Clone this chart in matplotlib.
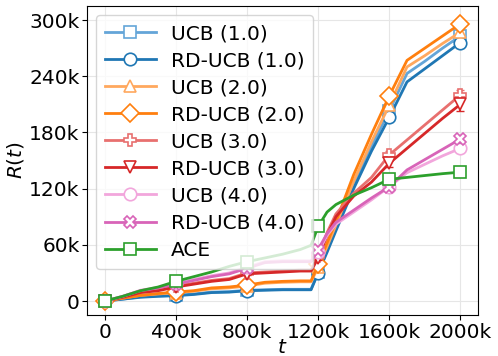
import numpy as np
import matplotlib
matplotlib.use("Agg")
import matplotlib.pyplot as plt
from matplotlib.ticker import FuncFormatter

# time grid (in thousands of steps)
t = [0, 100, 200, 300, 400, 500, 600, 700, 800, 900, 1000, 1100, 1160,
     1200, 1250, 1300, 1400, 1500, 1600, 1700, 1800, 1900, 2000]
mark_idx = [0, 4, 8, 13, 18, 22]

# regret curves (thousands)
ucb_1 = [0, 2, 4.5, 5.5, 6, 7.5, 9.5, 10, 11.5, 12, 12.5, 12.5, 12.5, 31, 54, 78, 124, 165, 203, 243, 256, 270, 283]
rd_1 = [0, 2, 4, 5, 5.7, 7, 9, 9.5, 11, 11.5, 12, 12, 12, 30, 52, 75, 120, 160, 196, 234, 248, 262, 276]
ucb_2 = [0, 3, 6, 7.5, 9, 10.5, 13, 14, 16, 19, 20, 20.5, 20.5, 36, 58, 81, 128, 170, 209, 250, 262, 275, 287]
rd_2 = [0, 3, 6, 8, 9.7, 11, 14, 15, 17, 20, 21, 21.5, 21.5, 39, 62, 85, 135, 178, 219, 257, 270, 283, 296]
ucb_3 = [0, 4, 9.5, 12, 16, 19, 22, 24, 30, 31, 32, 33, 33, 48, 73, 93, 115, 132, 156, 172, 188, 204, 220]
rd_3 = [0, 4, 9, 11, 15, 18, 21, 23, 29, 30, 31, 32, 32, 46, 70, 90, 112, 127, 147, 163, 179, 195, 210]
ucb_4 = [0, 5, 11.5, 14.5, 19, 23, 27, 30, 36, 42, 43, 43, 43, 52, 70, 82, 95, 108, 122, 137, 146, 155, 163]
rd_4 = [0, 5, 11, 14, 18, 22, 26, 29, 35, 41, 42, 42, 42, 55, 72, 84, 97, 110, 122, 140, 151, 162, 173]
ace = [0, 5, 11, 15, 21, 26, 31, 37, 42, 46, 50, 55, 59.5, 79.6, 95, 103, 113, 121, 130, 132, 134, 136, 137.6]

# error bar half-widths at the marker points (thousands)
err_ucb_1 = [0, 1, 1, 2, 3, 3]
err_rd_1 = [0, 1, 1, 2, 3, 3]
err_ucb_2 = [0, 1, 1, 2, 3, 3]
err_rd_2 = [0, 1, 1, 2, 3, 4]
err_ucb_3 = [0, 1, 1, 2, 4, 5]
err_rd_3 = [0, 1, 1, 2, 4, 7]
err_ucb_4 = [0, 1, 1, 2, 3, 4]
err_rd_4 = [0, 1, 1, 2, 3, 4]
err_ace = [0, 1, 1, 1, 1, 1]

series = [
    ("UCB (1.0)", ucb_1, err_ucb_1, "#64a5d8", "s"),
    ("RD-UCB (1.0)", rd_1, err_rd_1, "#1f77b4", "o"),
    ("UCB (2.0)", ucb_2, err_ucb_2, "#ffa85e", "^"),
    ("RD-UCB (2.0)", rd_2, err_rd_2, "#ff7f0e", "D"),
    ("UCB (3.0)", ucb_3, err_ucb_3, "#e8706f", "P"),
    ("RD-UCB (3.0)", rd_3, err_rd_3, "#d62728", "v"),
    ("UCB (4.0)", ucb_4, err_ucb_4, "#f2a6dc", "o"),
    ("RD-UCB (4.0)", rd_4, err_rd_4, "#d864b8", "X"),
    ("ACE", ace, err_ace, "#2ca02c", "s"),
]

fig, ax = plt.subplots(figsize=(4.98, 3.56), dpi=100)
tt = np.array(t) * 1000
for name, vals, err, col, mk in series:
    v = np.array(vals) * 1000
    ax.errorbar(tt[mark_idx], v[mark_idx], yerr=np.array(err) * 1000,
                fmt="none", ecolor=col, capsize=3, elinewidth=1.5)
    ax.plot(tt, v, color=col, lw=2, marker=mk, markevery=mark_idx,
            markersize=9, markerfacecolor="white", markeredgecolor=col,
            markeredgewidth=1.2, label=name)

ax.set_xticks(np.arange(0, 2000001, 400000))
ax.set_yticks(np.arange(0, 300001, 60000))
kfmt = FuncFormatter(lambda x, p: "0" if x == 0 else "%dk" % round(x / 1000))
ax.xaxis.set_major_formatter(kfmt)
ax.yaxis.set_major_formatter(kfmt)
ax.tick_params(labelsize=14.5, pad=2)
ax.grid(color="#e6e6e6")
ax.set_xlabel("$t$", fontsize=14.5, labelpad=-3)
ax.set_ylabel("$R(t)$", fontsize=14.5, labelpad=2)
ax.legend(loc="upper left", fontsize=14.5, handlelength=2.5, labelspacing=0.4,
          borderpad=0.45, handletextpad=0.75, borderaxespad=0.45)
fig.subplots_adjust(left=0.175, right=0.96, top=0.983, bottom=0.115)
fig.savefig("out.png")
